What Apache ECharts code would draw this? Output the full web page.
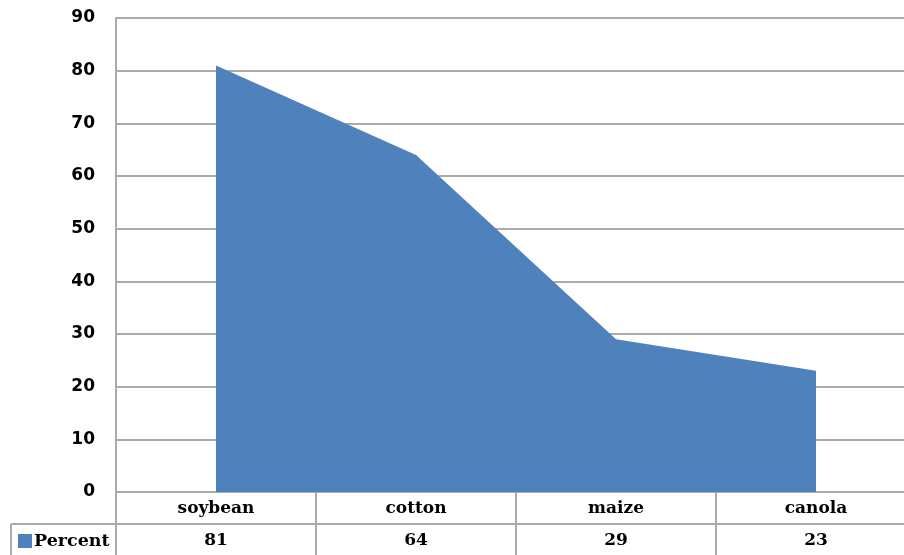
<!DOCTYPE html>
<html>
<head>
<meta charset="utf-8">
<script src="https://cdn.jsdelivr.net/npm/echarts@6/dist/echarts.min.js"></script>
<style>
  html, body { margin: 0; padding: 0; background: #fff; overflow: hidden; width: 904px; height: 555px; }
  /* the plot runs past the right edge of the window, so the drawing surface is wider */
  #chart { width: 960px; height: 555px; }
</style>
</head>
<body>
<div id="chart"></div>
<script>
// Share of crop area planted with biotech varieties
const categories = ['soybean', 'cotton', 'maize', 'canola'];
const percentValues = [81, 64, 29, 23];
const seriesName = 'Percent';
const yTicks = { min: 0, max: 90, step: 10 };

const FILL = '#4f81bd';
const RULE = '#ababab';
const ROW_H = 32;
const GRID = { left: 116, top: 18, width: 800, bottom: 63 };
const H = 555;
const SERIF = 'DejaVu Serif';
const SANS = 'DejaVu Sans';

const chart = echarts.init(document.getElementById('chart'), null, { renderer: 'canvas' });

const axisY = H - GRID.bottom;          // baseline of the plot
const row2Top = axisY + ROW_H;          // top of the value row in the data table
const tableLeft = 11;

chart.setOption({
  animation: false,
  backgroundColor: '#fff',
  grid: { left: GRID.left, top: GRID.top, width: GRID.width, bottom: GRID.bottom, containLabel: false, show: false },
  legend: {
    data: [seriesName],
    left: 18, top: row2Top + 8,
    icon: 'rect', itemWidth: 14, itemHeight: 14, itemGap: 0,
    padding: 0,
    textStyle: { fontFamily: SERIF, fontWeight: 'bold', fontSize: 17.5, color: '#000', padding: [0, 0, 0, -3] }
  },
  xAxis: [
    {
      type: 'category',
      data: categories,
      boundaryGap: true,
      axisLine: { show: true, lineStyle: { color: RULE, width: 2 } },
      axisTick: { show: true, length: ROW_H, lineStyle: { color: RULE, width: 2 } },
      axisLabel: { margin: 8, fontFamily: SERIF, fontWeight: 'bold', fontSize: 17, color: '#000' },
      splitLine: { show: false }
    },
    {
      type: 'category',
      data: categories,
      position: 'bottom',
      offset: ROW_H,
      boundaryGap: true,
      axisLine: { show: true, lineStyle: { color: RULE, width: 2 } },
      axisTick: { show: true, length: ROW_H, lineStyle: { color: RULE, width: 2 } },
      axisLabel: {
        margin: 8, fontFamily: SERIF, fontWeight: 'bold', fontSize: 17, color: '#000',
        formatter: (v, i) => String(percentValues[i])
      },
      splitLine: { show: false }
    }
  ],
  yAxis: {
    type: 'value',
    min: yTicks.min, max: yTicks.max, interval: yTicks.step,
    axisLine: { show: true, lineStyle: { color: RULE, width: 2 } },
    axisTick: { show: false },
    axisLabel: { margin: 21, fontFamily: SANS, fontWeight: 'bold', fontSize: 17, color: '#000' },
    splitLine: { show: true, lineStyle: { color: RULE, width: 2 } }
  },
  series: [{
    name: seriesName,
    type: 'line',
    xAxisIndex: 0,
    data: percentValues,
    symbol: 'none',
    lineStyle: { width: 0, color: FILL },
    itemStyle: { color: FILL },
    areaStyle: { color: FILL, opacity: 1 },
    z: 1
  }],
  graphic: [
    // left part of the data table's value row (legend cell)
    { type: 'line', shape: { x1: tableLeft, y1: row2Top, x2: GRID.left, y2: row2Top },
      style: { stroke: RULE, lineWidth: 2 }, silent: true },
    { type: 'line', shape: { x1: tableLeft, y1: row2Top, x2: tableLeft, y2: H },
      style: { stroke: RULE, lineWidth: 2 }, silent: true }
  ]
});
</script>
</body>
</html>
